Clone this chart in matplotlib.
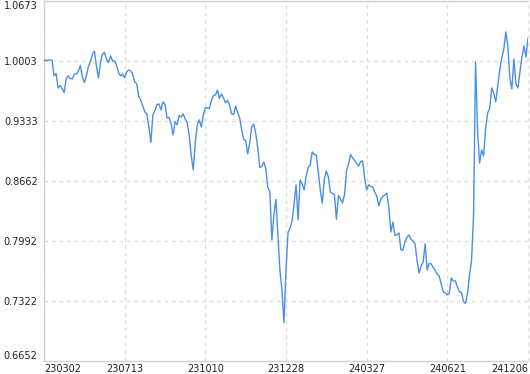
import numpy as np
import matplotlib
matplotlib.use("Agg")
import matplotlib.pyplot as plt

# net value series, one point per sample
VALUES = [
    1.0010, 1.0015, 1.0013, 1.0019, 1.0011, 0.9839, 0.9867, 0.9705, 0.9733, 0.9699,
    0.9655, 0.9806, 0.9839, 0.9811, 0.9806, 0.9859, 0.9861, 0.9892, 0.9956, 0.9828,
    0.9766, 0.9839, 0.9945, 1.0001, 1.0079, 1.0118, 0.9951, 0.9817, 0.9990, 1.0085,
    1.0102, 1.0023, 0.9990, 1.0063, 1.0007, 1.0007, 0.9956, 0.9873, 0.9839, 0.9861,
    0.9817, 0.9887, 0.9906, 0.9895, 0.9856, 0.9772, 0.9750, 0.9610, 0.9565, 0.9504,
    0.9437, 0.9415, 0.9269, 0.9096, 0.9403, 0.9454, 0.9521, 0.9526, 0.9459, 0.9549,
    0.9521, 0.9370, 0.9375, 0.9303, 0.9180, 0.9331, 0.9294, 0.9398, 0.9381, 0.9415,
    0.9359, 0.9314, 0.9180, 0.8951, 0.8789, 0.9091, 0.9292, 0.9348, 0.9269, 0.9403,
    0.9487, 0.9482, 0.9476, 0.9565, 0.9621, 0.9627, 0.9683, 0.9588, 0.9638, 0.9594,
    0.9538, 0.9568, 0.9515, 0.9415, 0.9409, 0.9504, 0.9431, 0.9375, 0.9242, 0.9130,
    0.9119, 0.8968, 0.9087, 0.9269, 0.9303, 0.9197, 0.9035, 0.8817, 0.8828, 0.8878,
    0.8800, 0.8594, 0.8543, 0.8007, 0.8286, 0.8460, 0.8063, 0.7661, 0.7449, 0.7083,
    0.7672, 0.8086, 0.8141, 0.8219, 0.8409, 0.8622, 0.8231, 0.8677, 0.8633, 0.8566,
    0.8722, 0.8817, 0.8845, 0.8990, 0.8962, 0.8957, 0.8767, 0.8566, 0.8417, 0.8689,
    0.8778, 0.8711, 0.8543, 0.8527, 0.8515, 0.8238, 0.8504, 0.8465, 0.8421, 0.8510,
    0.8778, 0.8856, 0.8962, 0.8923, 0.8895, 0.8862, 0.8834, 0.8884, 0.8890, 0.8700,
    0.8566, 0.8622, 0.8605, 0.8599, 0.8543, 0.8499, 0.8387, 0.8460, 0.8495, 0.8510,
    0.8532, 0.8370, 0.8097, 0.8208, 0.8058, 0.8065, 0.8086, 0.7896, 0.7896, 0.7988,
    0.8041, 0.8063, 0.8013, 0.7996, 0.7963, 0.7773, 0.7639, 0.7713, 0.7761, 0.7963,
    0.7672, 0.7747, 0.7739, 0.7699, 0.7666, 0.7625, 0.7603, 0.7510, 0.7429, 0.7415,
    0.7393, 0.7415, 0.7583, 0.7549, 0.7549, 0.7482, 0.7430, 0.7421, 0.7318, 0.7298,
    0.7410, 0.7616, 0.7773, 0.8286, 0.9995, 0.9225, 0.8867, 0.9013, 0.8945, 0.9258,
    0.9426, 0.9476, 0.9705, 0.9649, 0.9549, 0.9727, 0.9906, 1.0040, 1.0137, 1.0331,
    1.0174, 0.9817, 0.9694, 1.0029, 0.9750, 0.9705, 0.9884, 1.0051, 1.0174, 1.0051,
    1.0260,
]

X_LABELS = ["230302", "230713", "231010", "231228", "240327", "240621", "241206"]
Y_TICKS = [0.6652, 0.7322, 0.7992, 0.8662, 0.9333, 1.0003, 1.0673]

W, H = 530, 374
fig = plt.figure(figsize=(W / 100, H / 100), dpi=100)
ax = fig.add_axes([44 / W, 12.7 / H, 484 / W, 360 / H])

x = np.arange(len(VALUES))
ax.plot(x, VALUES, color="#4a8fe3", linewidth=1.0, zorder=3)

n = len(VALUES) - 1
step = n / (len(X_LABELS) - 1)
ax.set_xticks([i * step for i in range(len(X_LABELS))])
ax.set_xticklabels(X_LABELS)
ax.set_xlim(0, n)

ax.set_ylim(Y_TICKS[0], Y_TICKS[-1])
ax.set_yticks(Y_TICKS)
ax.set_yticklabels([f"{v:.4f}" for v in Y_TICKS])

ax.tick_params(length=0, labelsize=7, colors="#222222")
ax.tick_params(axis="y", pad=4.5)
ax.tick_params(axis="x", pad=2)

xl = ax.get_xticklabels()
xl[0].set_ha("left")
xl[-1].set_ha("right")
yl = ax.get_yticklabels()
yl[0].set_va("bottom")
yl[-1].set_va("top")

ax.grid(True, color="#dcdcdc", linestyle=(0, (3, 3)), linewidth=0.9)
for g in ax.get_xgridlines() + ax.get_ygridlines():
    g.set_clip_on(False)

for side in ["left", "bottom", "top"]:
    ax.spines[side].set_color("#d4d4d4")
    ax.spines[side].set_linewidth(1.0)
ax.spines["right"].set_visible(False)

fig.savefig("out.png", dpi=100)
